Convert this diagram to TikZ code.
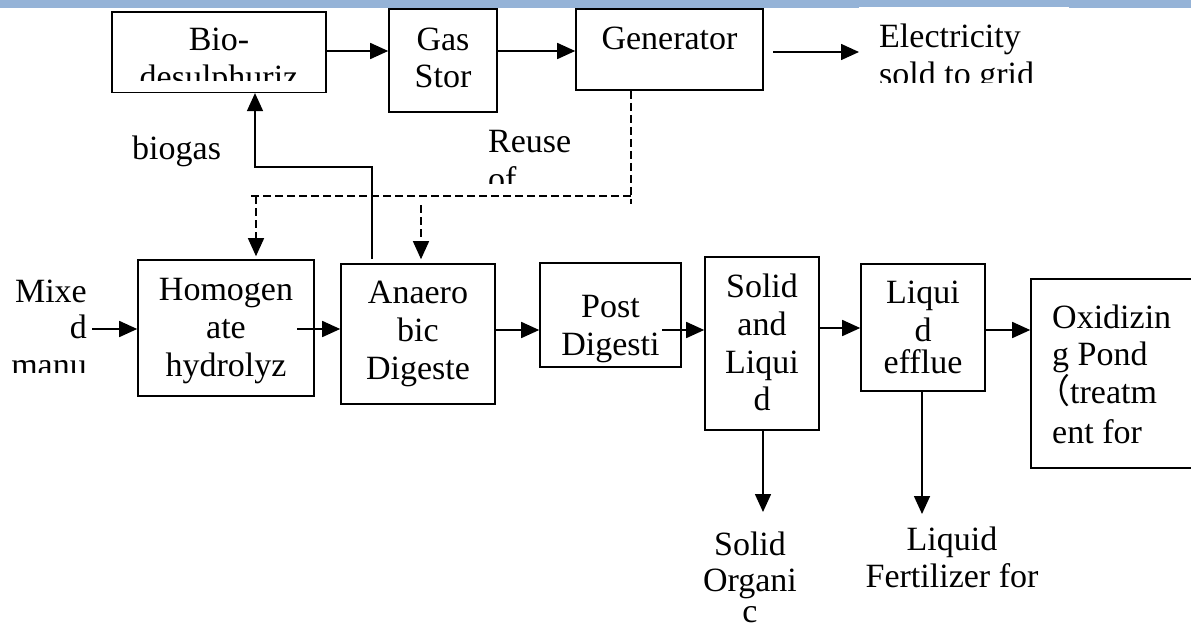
\documentclass[tikz,border=0pt]{standalone}
\usepackage{fontspec}
\setmainfont{Liberation Serif}
\newfontfamily\cjkfont{Noto Sans CJK SC}
\usetikzlibrary{arrows.meta}
\definecolor{band}{HTML}{95B3D7}
\newcommand\lblsize{\fontsize{34}{38}\selectfont}
\begin{document}
\begin{tikzpicture}[x=1pt,y=-1pt,
  box/.style={draw,line width=1.6pt,inner sep=0pt},
  lbl/.style={anchor=base,inner sep=0pt,font=\lblsize},
  lblw/.style={anchor=base west,inner sep=0pt,font=\lblsize},
  lble/.style={anchor=base east,inner sep=0pt,font=\lblsize},
  arr/.style={line width=1.6pt,-{Triangle[length=18pt,width=16pt]}},
  dashline/.style={line width=1.4pt,dash pattern=on 8pt off 4pt}]
\useasboundingbox (0,0) rectangle (1191,629);
% header band
\fill[band] (0,0) rectangle (1191,8.3);
\fill[white] (859,7.3) rectangle (1069,10);
% boxes
\node[box,minimum width=214pt,minimum height=80.6pt] (bio) at (219,52) {};
\node[box,minimum width=108pt,minimum height=102.7pt] (gas) at (443,60.6) {};
\node[box,minimum width=187pt,minimum height=80.7pt] (gen) at (669.5,49.6) {};
\node[box,minimum width=176pt,minimum height=136pt] (hom) at (226,328) {};
\node[box,minimum width=154pt,minimum height=140pt] (ana) at (418,334) {};
\node[box,minimum width=141pt,minimum height=104pt] (post) at (610.5,315) {};
\node[box,minimum width=114pt,minimum height=173pt] (sl) at (762,343.5) {};
\node[box,minimum width=124pt,minimum height=127pt] (le) at (923,327.5) {};
\node[box,minimum width=220pt,minimum height=189pt] (ox) at (1141,373.5) {};
% labels in boxes
\node[lbl] (bioA) at (219,50) {Bio-};
\begin{scope}
\clip (100,0) rectangle (330,80);
\node[lbl] (bioB) at (219,88) {desulphuriz};
\end{scope}
\node[lbl] (gasA) at (443,50) {Gas};
\node[lbl] (gasB) at (443,87) {Stor};
\node[lbl] (genA) at (669.5,49) {Generator};
\node[lbl] (homA) at (226,300) {Homogen};
\node[lbl] (homB) at (226,338) {ate};
\node[lbl] (homC) at (226,376) {hydrolyz};
\node[lbl] (anaA) at (418,303) {Anaero};
\node[lbl] (anaB) at (418,341) {bic};
\node[lbl] (anaC) at (418,379) {Digeste};
\node[lbl] (postA) at (610.5,317) {Post};
\node[lbl] (postB) at (610.5,355) {Digesti};
\node[lbl] (slA) at (762,297) {Solid};
\node[lbl] (slB) at (762,335) {and};
\node[lbl] (slC) at (762,373) {Liqui};
\node[lbl] (slD) at (762,410) {d};
\node[lbl] (leA) at (923,303) {Liqui};
\node[lbl] (leB) at (923,341) {d};
\node[lbl] (leC) at (923,373) {efflue};
\node[lblw] (oxA) at (1052,328) {Oxidizin};
\node[lblw] (oxB) at (1052,365) {g Pond};
\node[lblw] (oxC) at (1036,403) {{\cjkfont （}treatm};
\node[lblw] (oxD) at (1052,443) {ent for};
% free labels
\node[lblw] (elA) at (879,47) {Electricity};
\begin{scope}
\clip (860,0) rectangle (1100,82);
\node[lblw] (elB) at (879,85) {sold to grid};
\end{scope}
\node[lblw] (biogas) at (132,159) {biogas};
\node[lblw] (reA) at (488,152) {Reuse};
\begin{scope}
\clip (480,150) rectangle (600,183);
\node[lblw] (reB) at (488,190) {of};
\end{scope}
\node[lble] (mixA) at (87,302) {Mixe};
\node[lble] (mixB) at (87,338) {d};
\begin{scope}
\clip (0,340) rectangle (100,372);
\node[lble] (mixC) at (87,376) {manu};
\end{scope}
\node[lbl] (soA) at (750,555) {Solid};
\node[lbl] (soB) at (750,591) {Organi};
\node[lbl] (soC) at (750,622) {c};
\node[lbl] (lfA) at (952,550) {Liquid};
\node[lbl] (lfB) at (952,587) {Fertilizer for};
% coordinates for free ends
\coordinate (mixout) at (92,329);
\coordinate (homout) at (297,329);
\coordinate (postout) at (662,330);
\coordinate (genout) at (773,52);
\coordinate (elin) at (859,52);
\coordinate (anaup) at (372,259);
\coordinate (bend1) at (372,167);
\coordinate (bend2) at (255,167);
\coordinate (dashR) at (631,196);
\coordinate (dashL) at (251,196);
\coordinate (dashA) at (256,196);
\coordinate (dashB) at (421,205);
\coordinate (solidend) at (763,512);
\coordinate (liqend) at (922,514);
% top row arrows
\draw[arr] (bio.east |- 0,51) -- (gas.west |- 0,51);
\draw[arr] (gas.east |- 0,51) -- (gen.west |- 0,51);
\draw[arr] (genout) -- (elin);
% biogas line
\draw[arr] (anaup) -- (bend1) -- (bend2) -- (bio.south -| bend2);
% reuse dashed
\draw[dashline] (gen.south -| dashR) -- (631,204);
\draw[dashline] (dashR) -- (dashL);
\draw[dashline,-{Triangle[length=18pt,width=16pt]},shorten >=3pt] (dashA) -- (hom.north -| dashA);
\draw[dashline,-{Triangle[length=18pt,width=16pt]},shorten >=4pt] (dashB) -- (ana.north -| dashB);
% bottom row arrows
\draw[arr] (mixout) -- (hom.west |- mixout);
\draw[arr] (homout) -- (ana.west |- homout);
\draw[arr] (ana.east |- 0,330) -- (post.west |- 0,330);
\draw[arr] (postout) -- (sl.west |- postout);
\draw[arr] (sl.east |- 0,328) -- (le.west |- 0,328);
\draw[arr] (le.east |- 0,330) -- (ox.west |- 0,330);
\draw[arr] (sl.south -| solidend) -- (solidend);
\draw[arr] (le.south -| liqend) -- (liqend);
\end{tikzpicture}
\end{document}
